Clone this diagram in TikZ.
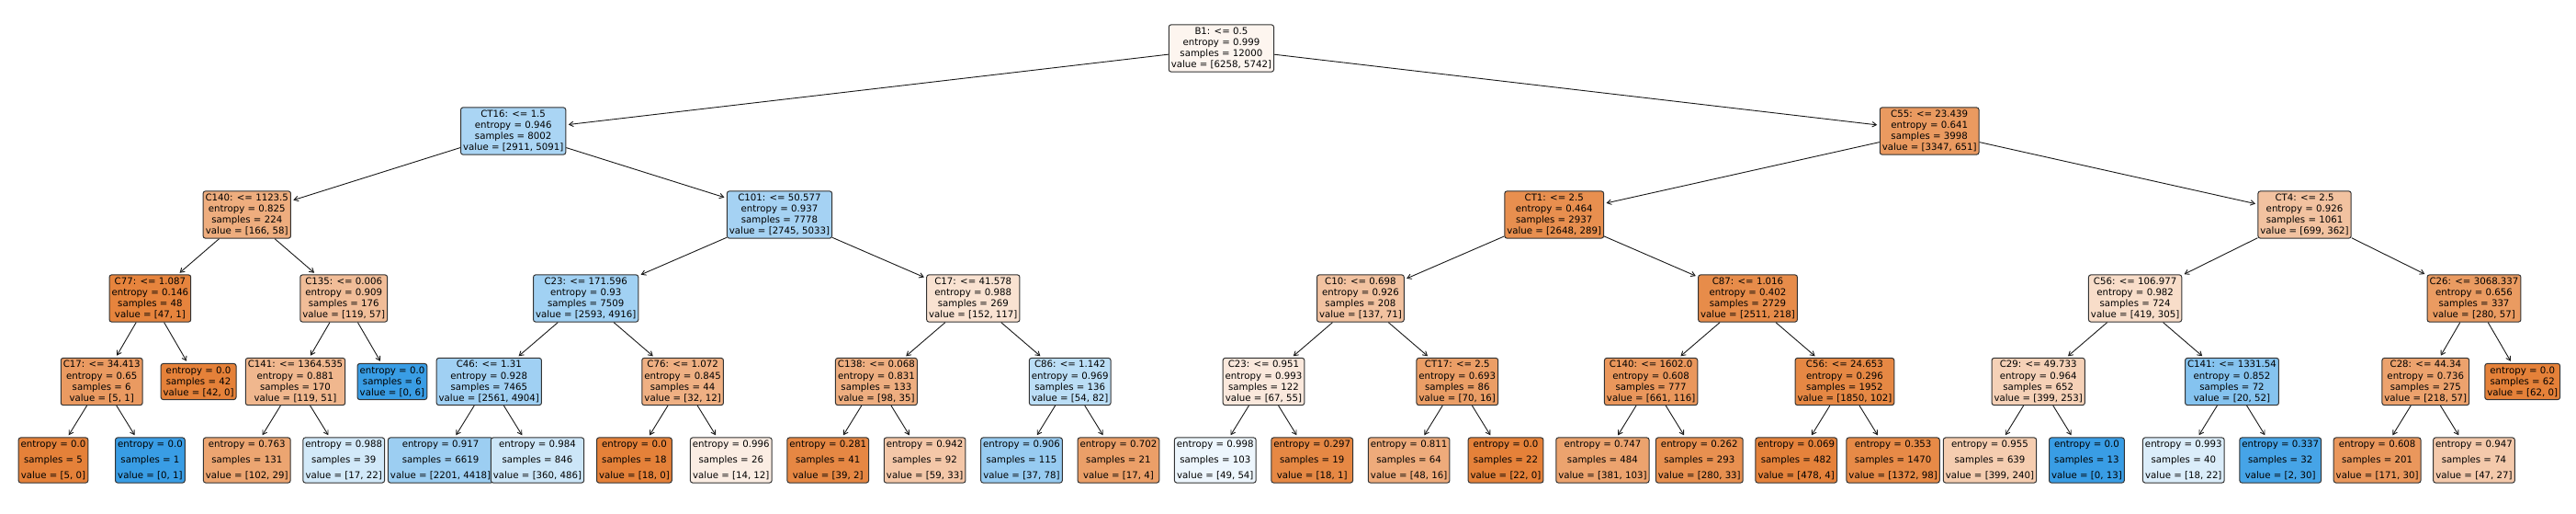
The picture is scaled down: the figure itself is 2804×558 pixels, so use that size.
\documentclass[tikz,border=0pt]{standalone}
\usepackage{fontspec}
\setmainfont{DejaVu Sans}
\usetikzlibrary{arrows.meta}
\definecolor{c0}{RGB}{229,129,57}
\definecolor{c1}{RGB}{57,157,229}
\tikzset{
  nd/.style={draw=black!80, line width=1pt, rounded corners=2.5pt, align=center,
    inner xsep=2.5pt, inner ysep=3pt, font=\fontsize{10.2}{12.1}\selectfont},
  lf/.style={nd, font=\fontsize{10.2}{17.1}\selectfont},
  ar/.style={-{Straight Barb[length=4.5pt,width=5.5pt]}, line width=0.9pt, black!90, shorten >=2.5pt}
}
\begin{document}
\begin{tikzpicture}[x=105.4pt, y=-1pt]
\useasboundingbox (-58pt,0pt) rectangle (2746pt,-558pt);
% level 0
\node[nd, fill=c0!8.2!white] (r) at (12.0625,52.5) {B1: <= 0.5\\entropy = 0.999\\samples = 12000\\value = [6258, 5742]};
% level 1
\node[nd, fill=c1!42.8!white] (a) at (4.75,142.5) {CT16: <= 1.5\\entropy = 0.946\\samples = 8002\\value = [2911, 5091]};
\node[nd, fill=c0!80.5!white] (b) at (19.375,142.5) {C55: <= 23.439\\entropy = 0.641\\samples = 3998\\value = [3347, 651]};
% level 2
\node[nd, fill=c0!65.1!white] (aa) at (2,233.5) {C140: <= 1123.5\\entropy = 0.825\\samples = 224\\value = [166, 58]};
\node[nd, fill=c1!45.5!white] (ab) at (7.5,233.5) {C101: <= 50.577\\entropy = 0.937\\samples = 7778\\value = [2745, 5033]};
\node[nd, fill=c0!89.1!white] (ba) at (15.5,233.5) {CT1: <= 2.5\\entropy = 0.464\\samples = 2937\\value = [2648, 289]};
\node[nd, fill=c0!48.2!white] (bb) at (23.25,233.5) {CT4: <= 2.5\\entropy = 0.926\\samples = 1061\\value = [699, 362]};
% level 3
\node[nd, fill=c0!97.9!white] (aaa) at (1,324.5) {C77: <= 1.087\\entropy = 0.146\\samples = 48\\value = [47, 1]};
\node[nd, fill=c0!52.1!white] (aab) at (3,324.5) {C135: <= 0.006\\entropy = 0.909\\samples = 176\\value = [119, 57]};
\node[nd, fill=c1!47.3!white] (aba) at (5.5,324.5) {C23: <= 171.596\\entropy = 0.93\\samples = 7509\\value = [2593, 4916]};
\node[nd, fill=c0!23!white] (abb) at (9.5,324.5) {C17: <= 41.578\\entropy = 0.988\\samples = 269\\value = [152, 117]};
\node[nd, fill=c0!48.2!white] (baa) at (13.5,324.5) {C10: <= 0.698\\entropy = 0.926\\samples = 208\\value = [137, 71]};
\node[nd, fill=c0!91.3!white] (bab) at (17.5,324.5) {C87: <= 1.016\\entropy = 0.402\\samples = 2729\\value = [2511, 218]};
\node[nd, fill=c0!27.2!white] (bba) at (21.5,324.5) {C56: <= 106.977\\entropy = 0.982\\samples = 724\\value = [419, 305]};
\node[nd, fill=c0!79.6!white] (bbb) at (25,324.5) {C26: <= 3068.337\\entropy = 0.656\\samples = 337\\value = [280, 57]};
% level 4
\node[nd, fill=c0!80!white] (aaaa) at (0.5,415) {C17: <= 34.413\\entropy = 0.65\\samples = 6\\value = [5, 1]};
\node[nd, fill=c0] (aaab) at (1.5,415) {entropy = 0.0\\samples = 42\\value = [42, 0]};
\node[nd, fill=c0!57.1!white] (aaba) at (2.5,415) {C141: <= 1364.535\\entropy = 0.881\\samples = 170\\value = [119, 51]};
\node[nd, fill=c1] (aabb) at (3.5,415) {entropy = 0.0\\samples = 6\\value = [0, 6]};
\node[nd, fill=c1!47.8!white] (abaa) at (4.5,415) {C46: <= 1.31\\entropy = 0.928\\samples = 7465\\value = [2561, 4904]};
\node[nd, fill=c0!62.5!white] (abab) at (6.5,415) {C76: <= 1.072\\entropy = 0.845\\samples = 44\\value = [32, 12]};
\node[nd, fill=c0!64.3!white] (abba) at (8.5,415) {C138: <= 0.068\\entropy = 0.831\\samples = 133\\value = [98, 35]};
\node[nd, fill=c1!34.1!white] (abbb) at (10.5,415) {C86: <= 1.142\\entropy = 0.969\\samples = 136\\value = [54, 82]};
\node[nd, fill=c0!17.9!white] (baaa) at (12.5,415) {C23: <= 0.951\\entropy = 0.993\\samples = 122\\value = [67, 55]};
\node[nd, fill=c0!77.1!white] (baab) at (14.5,415) {CT17: <= 2.5\\entropy = 0.693\\samples = 86\\value = [70, 16]};
\node[nd, fill=c0!82.5!white] (baba) at (16.5,415) {C140: <= 1602.0\\entropy = 0.608\\samples = 777\\value = [661, 116]};
\node[nd, fill=c0!94.5!white] (babb) at (18.5,415) {C56: <= 24.653\\entropy = 0.296\\samples = 1952\\value = [1850, 102]};
\node[nd, fill=c0!36.6!white] (bbaa) at (20.5,415) {C29: <= 49.733\\entropy = 0.964\\samples = 652\\value = [399, 253]};
\node[nd, fill=c1!61.5!white] (bbab) at (22.5,415) {C141: <= 1331.54\\entropy = 0.852\\samples = 72\\value = [20, 52]};
\node[nd, fill=c0!73.9!white] (bbba) at (24.5,415) {C28: <= 44.34\\entropy = 0.736\\samples = 275\\value = [218, 57]};
\node[nd, fill=c0] (bbbb) at (25.5,415) {entropy = 0.0\\samples = 62\\value = [62, 0]};
% level 5
\node[lf, fill=c0] (l0) at (0,500.5) {entropy = 0.0\\samples = 5\\value = [5, 0]};
\node[lf, fill=c1] (l1) at (1,500.5) {entropy = 0.0\\samples = 1\\value = [0, 1]};
\node[lf, fill=c0!71.6!white] (l2) at (2,500.5) {entropy = 0.763\\samples = 131\\value = [102, 29]};
\node[lf, fill=c1!22.7!white] (l3) at (3,500.5) {entropy = 0.988\\samples = 39\\value = [17, 22]};
\node[lf, fill=c1!50.2!white] (l4) at (4,500.5) {entropy = 0.917\\samples = 6619\\value = [2201, 4418]};
\node[lf, fill=c1!25.9!white] (l5) at (5,500.5) {entropy = 0.984\\samples = 846\\value = [360, 486]};
\node[lf, fill=c0] (l6) at (6,500.5) {entropy = 0.0\\samples = 18\\value = [18, 0]};
\node[lf, fill=c0!14.3!white] (l7) at (7,500.5) {entropy = 0.996\\samples = 26\\value = [14, 12]};
\node[lf, fill=c0!94.9!white] (l8) at (8,500.5) {entropy = 0.281\\samples = 41\\value = [39, 2]};
\node[lf, fill=c0!44.1!white] (l9) at (9,500.5) {entropy = 0.942\\samples = 92\\value = [59, 33]};
\node[lf, fill=c1!52.6!white] (l10) at (10,500.5) {entropy = 0.906\\samples = 115\\value = [37, 78]};
\node[lf, fill=c0!76.5!white] (l11) at (11,500.5) {entropy = 0.702\\samples = 21\\value = [17, 4]};
\node[lf, fill=c1!9.3!white] (l12) at (12,500.5) {entropy = 0.998\\samples = 103\\value = [49, 54]};
\node[lf, fill=c0!94.4!white] (l13) at (13,500.5) {entropy = 0.297\\samples = 19\\value = [18, 1]};
\node[lf, fill=c0!66.7!white] (l14) at (14,500.5) {entropy = 0.811\\samples = 64\\value = [48, 16]};
\node[lf, fill=c0] (l15) at (15,500.5) {entropy = 0.0\\samples = 22\\value = [22, 0]};
\node[lf, fill=c0!73!white] (l16) at (16,500.5) {entropy = 0.747\\samples = 484\\value = [381, 103]};
\node[lf, fill=c0!88.2!white] (l17) at (17,500.5) {entropy = 0.262\\samples = 293\\value = [280, 33]};
\node[lf, fill=c0!99.2!white] (l18) at (18,500.5) {entropy = 0.069\\samples = 482\\value = [478, 4]};
\node[lf, fill=c0!92.9!white] (l19) at (19,500.5) {entropy = 0.353\\samples = 1470\\value = [1372, 98]};
\node[lf, fill=c0!39.8!white] (l20) at (20,500.5) {entropy = 0.955\\samples = 639\\value = [399, 240]};
\node[lf, fill=c1] (l21) at (21,500.5) {entropy = 0.0\\samples = 13\\value = [0, 13]};
\node[lf, fill=c1!18.2!white] (l22) at (22,500.5) {entropy = 0.993\\samples = 40\\value = [18, 22]};
\node[lf, fill=c1!93.3!white] (l23) at (23,500.5) {entropy = 0.337\\samples = 32\\value = [2, 30]};
\node[lf, fill=c0!82.5!white] (l24) at (24,500.5) {entropy = 0.608\\samples = 201\\value = [171, 30]};
\node[lf, fill=c0!42.6!white] (l25) at (25,500.5) {entropy = 0.947\\samples = 74\\value = [47, 27]};
% connectors
\foreach \p/\c in {r/a, r/b, a/aa, a/ab, b/ba, b/bb,
  aa/aaa, aa/aab, ab/aba, ab/abb, ba/baa, ba/bab, bb/bba, bb/bbb,
  aaa/aaaa, aaa/aaab, aab/aaba, aab/aabb, aba/abaa, aba/abab, abb/abba, abb/abbb,
  baa/baaa, baa/baab, bab/baba, bab/babb, bba/bbaa, bba/bbab, bbb/bbba, bbb/bbbb,
  aaaa/l0, aaaa/l1, aaba/l2, aaba/l3, abaa/l4, abaa/l5, abab/l6, abab/l7,
  abba/l8, abba/l9, abbb/l10, abbb/l11, baaa/l12, baaa/l13, baab/l14, baab/l15,
  baba/l16, baba/l17, babb/l18, babb/l19, bbaa/l20, bbaa/l21, bbab/l22, bbab/l23,
  bbba/l24, bbba/l25}
  \draw[ar] (\p) -- (\c);
\end{tikzpicture}
\end{document}
